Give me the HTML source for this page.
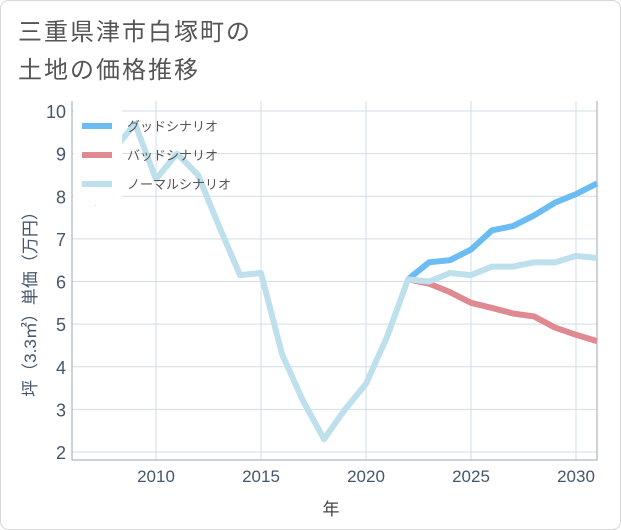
<!DOCTYPE html>
<html><head><meta charset="utf-8">
<style>
html,body{margin:0;padding:0;background:#fff;}
svg{display:block;font-family:"Liberation Sans","Noto Sans CJK JP",sans-serif;}
</style></head>
<body>
<svg id="c" width="621" height="530" xmlns="http://www.w3.org/2000/svg">
<rect x="0.5" y="0.5" width="620" height="529" rx="8" fill="#fff" stroke="#d8d8d8"/>
<text x="18" y="40" font-size="24" fill="#555" letter-spacing="2">三重県津市白塚町の</text>
<text x="18" y="78" font-size="24" fill="#555" letter-spacing="2">土地の価格推移</text>
<g id="grid"></g>
<g id="series"></g>
<g id="legend"></g>
<text x="331" y="515" font-size="17" fill="#444" text-anchor="middle">年</text>
<text transform="translate(36,300) rotate(-90)" font-size="17" fill="#44576b" text-anchor="middle">坪（3.3㎡）単価（万円）</text>
</svg>
<script>
const years=[2007,2008,2009,2010,2011,2012,2013,2014,2015,2016,2017,2018,2019,2020,2021,2022,2023,2024,2025,2026,2027,2028,2029,2030,2031];
const normal=[7.8,9.1,9.7,8.4,9.0,8.5,7.3,6.15,6.2,4.3,3.2,2.3,3.0,3.6,4.7,6.05,6.0,6.2,6.15,6.35,6.35,6.45,6.45,6.6,6.55];
const futureYears=[2022,2023,2024,2025,2026,2027,2028,2029,2030,2031];
const good=[6.05,6.45,6.5,6.75,7.2,7.3,7.55,7.85,8.05,8.3];
const bad=[6.05,5.95,5.75,5.5,5.38,5.25,5.18,4.92,4.75,4.6];
const xTicks=[2010,2015,2020,2025,2030];
const yTicks=[2,3,4,5,6,7,8,9,10];
const NS="http://www.w3.org/2000/svg";
const L=72,R=597,T=101,B=460;
const x=v=>156+(v-2010)*21;
const y=v=>452-(v-2)*42.625;
function mk(tag,attrs,parent){const e=document.createElementNS(NS,tag);for(const k in attrs)e.setAttribute(k,attrs[k]);parent.appendChild(e);return e;}
const grid=document.getElementById('grid');
yTicks.forEach(t=>{
 const ln=mk('line',{x1:L,x2:R,y1:y(t),y2:y(t),stroke:'#d3dde7','stroke-width':1},grid);
 
 
 const tx=mk('text',{x:L-6,y:y(t)+7,'font-size':18,fill:'#44576b','text-anchor':'end'},grid);
 tx.textContent=t;
 
 
});
xTicks.forEach(t=>{
 const ln=mk('line',{x1:x(t),x2:x(t),y1:T,y2:B,stroke:'#d3dde7','stroke-width':1},grid);
 
 
 const tx=mk('text',{x:x(t),y:B+22,'font-size':17,fill:'#44576b','text-anchor':'middle'},grid);
 tx.textContent=t;
 
 
});
const ax=mk('path',{d:`M${L},${T}V${B}H${R}V${T}`,fill:'none',stroke:'#9aa8b5','stroke-width':1},grid);


const s=document.getElementById('series');
function line(xs,vs,color,name){
 const p=mk('polyline',{points:xs.map((v,i)=>x(v)+','+y(vs[i])).join(' '),fill:'none',stroke:color,'stroke-width':6,'stroke-linejoin':'round'},s);
 
 
}
line(futureYears,good,'#6bbcf2','good-scenario-line');
line(futureYears,bad,'#de8a90','bad-scenario-line');
line(years,normal,'#bde0ec','normal-scenario-line');
const lg=document.getElementById('legend');
const bg=mk('rect',{x:74,y:108,width:48,height:97,fill:'#fff'},lg);


const items=[['グッドシナリオ','#6bbcf2'],['バッドシナリオ','#de8a90'],['ノーマルシナリオ','#bde0ec']];
items.forEach((it,i)=>{
 const yy=126+i*29;
 const g=mk('g',{},lg);
 
 
 mk('line',{x1:82,x2:112,y1:yy,y2:yy,stroke:it[1],'stroke-width':6},g);
 const t=mk('text',{x:127,y:yy+5,'font-size':13,fill:'#555'},g);
 t.textContent=it[0];
});
</script>
</body></html>
